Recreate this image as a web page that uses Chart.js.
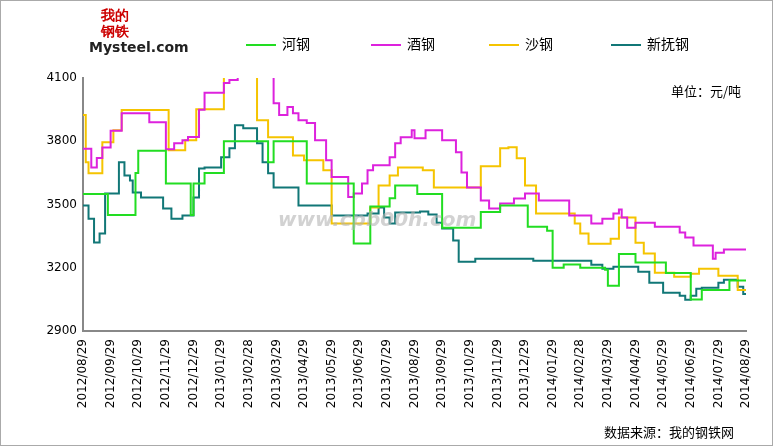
<!DOCTYPE html>
<html>
<head>
<meta charset="utf-8">
<script src="https://cdn.jsdelivr.net/npm/chart.js@4"></script>
<style>
  body { margin: 0; background: #fff; font-family: "Noto Sans CJK SC", sans-serif; }
  #wrap { position: relative; width: 771px; height: 444px; border: 1px solid #aaa; }
  #logo { position: absolute; left: 88px; top: 6px; font: bold 14px "DejaVu Sans", sans-serif; color: #222; }
  #logo .cn { display: block; color: #c00; font-size: 14px; margin-left: 12px; line-height: 16px; }
  #unit { position: absolute; left: 670px; top: 80px; font-size: 13px; color: #000; }
  #src { position: absolute; left: 603px; top: 421px; font-size: 13px; color: #000; }
  #wm { position: absolute; left: 277px; top: 206px; font: italic bold 20px "DejaVu Sans", sans-serif; color: rgba(180,180,180,0.6); }
  .lg { position: absolute; top: 32px; font-size: 14px; color: #000; }
  .lg i { display: inline-block; width: 30px; height: 2px; vertical-align: middle; margin-right: 6px; }
</style>
</head>
<body>
<div id="wrap">
  <canvas id="myChart" width="771" height="444"></canvas>
  <div id="logo"><span class="cn">我的<br>钢铁</span>Mysteel.com</div>
  <div id="legend"></div>
  <div id="unit">单位：元/吨</div>
  <div id="wm">www.cpb00h.com</div>
  <div id="src">数据来源：我的钢铁网</div>
</div>
<script>
const dateLabels = ['2012/08/29','2012/09/29','2012/10/29','2012/11/29','2012/12/29','2013/01/29','2013/02/28','2013/03/29','2013/04/29','2013/05/29','2013/06/29','2013/07/29','2013/08/29','2013/09/29','2013/10/29','2013/11/29','2013/12/29','2014/01/29','2014/02/28','2014/03/29','2014/04/29','2014/05/29','2014/06/29','2014/07/29','2014/08/29'];
const seriesNames = ['河钢', '酒钢', '沙钢', '新抚钢'];
const seriesColors = ['#22dd22', '#dd22dd', '#f5c400', '#117777'];
const legendLeft = [245, 370, 488, 610];

// [month index, price] — price holds from that point on
const hegang = [[0,3550],[0.9,3450],[1.9,3650],[2.0,3755],[3.0,3600],[3.9,3450],[4.0,3600],[4.4,3650],[5.1,3800],[6.7,3700],[6.9,3800],[8.1,3600],[9.8,3315],[10.4,3490],[11.1,3530],[11.3,3590],[12.1,3550],[13.0,3390],[14.4,3465],[15.1,3495],[16.1,3395],[16.8,3375],[17.0,3200],[17.4,3215],[18.0,3200],[18.9,3190],[19.0,3115],[19.4,3265],[20.0,3225],[21.1,3175],[22.0,3050],[22.4,3095],[23.4,3140],[24,3140]];
const jiugang = [[0,3765],[0.3,3675],[0.5,3720],[0.7,3770],[1.0,3850],[1.4,3933],[2.4,3890],[3.0,3762],[3.3,3790],[3.6,3805],[3.8,3820],[4.2,3950],[4.4,4030],[5.1,4076],[5.3,4090],[5.6,4250],[6.9,3980],[7.1,3925],[7.4,3962],[7.6,3933],[7.8,3900],[8.1,3886],[8.4,3805],[8.8,3710],[9.0,3630],[9.6,3535],[9.8,3552],[10.1,3600],[10.3,3662],[10.5,3686],[11.1,3724],[11.3,3790],[11.5,3819],[11.9,3852],[12.0,3814],[12.4,3852],[13.0,3805],[13.5,3748],[13.7,3652],[13.9,3581],[14.4,3519],[14.7,3481],[15.1,3505],[15.6,3529],[16.0,3552],[16.5,3519],[17.6,3448],[18.4,3410],[18.8,3433],[19.2,3457],[19.4,3476],[19.5,3438],[19.7,3390],[20.0,3414],[20.7,3395],[21.6,3367],[21.8,3343],[22.1,3305],[22.8,3243],[22.9,3271],[23.2,3286],[24,3286]];
const shagang = [[0,3924],[0.1,3700],[0.2,3648],[0.7,3795],[1.1,3852],[1.4,3948],[3.1,3757],[3.7,3805],[4.1,3952],[5.1,4250],[6.3,3900],[6.7,3819],[7.6,3733],[8.0,3710],[8.7,3662],[9.0,3410],[10.4,3486],[10.7,3590],[11.1,3638],[11.4,3676],[12.2,3676],[12.3,3662],[12.7,3581],[14.4,3681],[15.1,3767],[15.4,3771],[15.7,3719],[16.0,3590],[16.4,3457],[17.8,3410],[18.0,3362],[18.3,3314],[19.1,3338],[19.4,3438],[20.0,3319],[20.3,3267],[20.7,3176],[21.4,3157],[22.0,3171],[22.3,3195],[23.0,3162],[23.7,3095],[24,3095]];
const xinfugang = [[0,3495],[0.2,3433],[0.4,3320],[0.6,3362],[0.8,3552],[1.3,3700],[1.5,3638],[1.7,3614],[1.8,3557],[2.1,3533],[2.9,3481],[3.2,3433],[3.6,3448],[4.0,3533],[4.2,3671],[4.4,3676],[5.0,3724],[5.3,3767],[5.5,3876],[5.8,3862],[6.3,3790],[6.5,3700],[6.7,3648],[6.9,3581],[7.8,3495],[9.0,3448],[10.3,3457],[10.7,3486],[10.9,3438],[11.1,3410],[11.3,3462],[12.2,3467],[12.5,3452],[12.8,3414],[13.0,3386],[13.4,3329],[13.6,3229],[14.2,3243],[16.3,3233],[18.4,3214],[18.8,3195],[19.2,3205],[20.1,3181],[20.5,3129],[21.0,3081],[21.6,3067],[21.8,3048],[22.0,3067],[22.2,3100],[22.4,3105],[23.0,3129],[23.2,3143],[23.7,3110],[23.9,3076],[24,3076]];
const yTicks = [2900, 3200, 3500, 3800, 4100];

const allSeries = [hegang, jiugang, shagang, xinfugang];

// html legend
const lg = document.getElementById('legend');
seriesNames.forEach((n, i) => {
    const d = document.createElement('div');
    d.className = 'lg';
    d.style.left = legendLeft[i] + 'px';
    d.innerHTML = `<i style="background:${seriesColors[i]}"></i>${n}`;
    lg.appendChild(d);
});

const ctx = document.getElementById('myChart').getContext('2d');
new Chart(ctx, {
    type: 'line',
    data: {
        datasets: allSeries.map((s, i) => ({
            label: seriesNames[i],
            data: s.map(p => ({ x: p[0], y: p[1] })),
            borderColor: seriesColors[i],
            backgroundColor: seriesColors[i],
            borderWidth: 2,
            pointRadius: 0,
            stepped: 'before'
        }))
    },
    options: {
        responsive: false,
        animation: false,
        layout: { padding: { left: 10, right: 26, top: 77, bottom: 2 } },
        plugins: { legend: { display: false }, tooltip: { enabled: false } },
        scales: {
            x: {
                type: 'linear', min: 0, max: 24,
                grid: { display: false, drawTicks: true, tickLength: 5, tickColor: '#888' },
                border: { color: '#888', width: 2 },
                afterFit: axis => { axis.height = 112; },
                ticks: {
                    stepSize: 1, autoSkip: false, minRotation: 90, maxRotation: 90,
                    color: '#000', font: { size: 12, family: 'DejaVu Sans' },
                    callback: v => dateLabels[v]
                }
            },
            y: {
                min: 2900, max: 4100,
                grid: { display: false, tickLength: 0 },
                border: { color: '#888', width: 2 },
                afterFit: axis => { axis.width = 72; },
                afterBuildTicks: axis => { axis.ticks = yTicks.map(v => ({ value: v })); },
                ticks: { color: '#000', font: { size: 12, family: 'DejaVu Sans' }, padding: 6, callback: v => String(v) }
            }
        }
    }
});
</script>
</body>
</html>
